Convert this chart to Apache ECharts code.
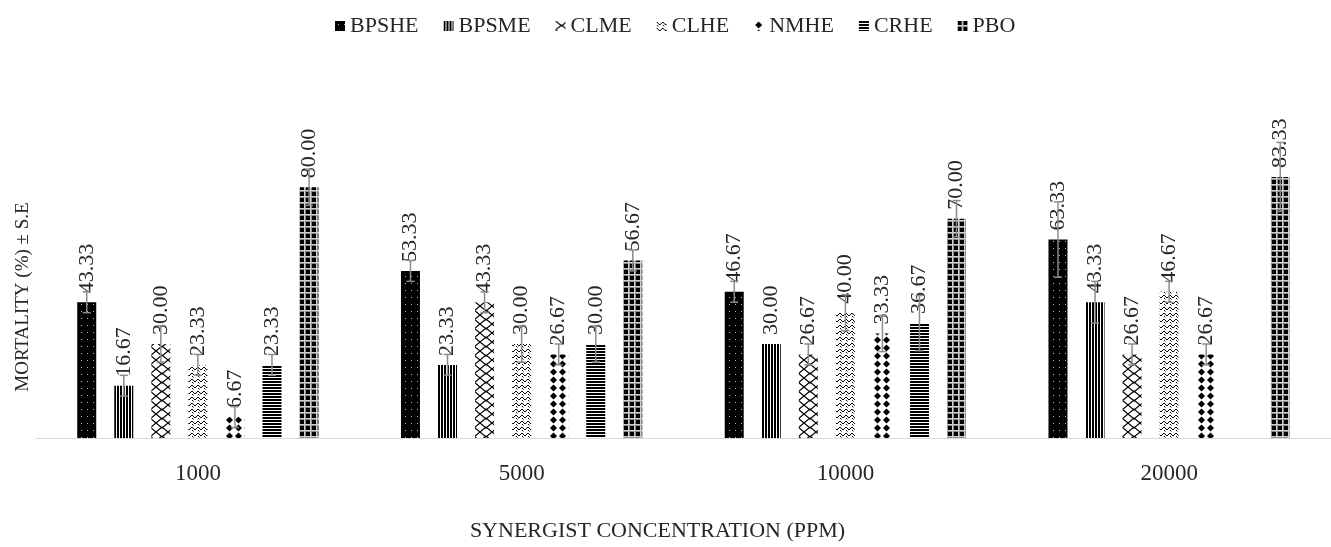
<!DOCTYPE html>
<html>
<head>
<meta charset="utf-8">
<script src="https://cdn.jsdelivr.net/npm/echarts@6/dist/echarts.min.js"></script>
<style>
html,body{margin:0;padding:0;background:#fff;}
#chart{width:1331px;height:547px;}
</style>
</head>
<body>
<div id="chart"></div>
<script>
// ---- data ----
const categories = ['1000', '5000', '10000', '20000'];
const seriesNames = ['BPSHE', 'BPSME', 'CLME', 'CLHE', 'NMHE', 'CRHE', 'PBO'];
const BPSHE = [43.33, 53.33, 46.67, 63.33];
const BPSME = [16.67, 23.33, 30.00, 43.33];
const CLME  = [30.00, 43.33, 26.67, 26.67];
const CLHE  = [23.33, 30.00, 40.00, 46.67];
const NMHE  = [6.67, 26.67, 33.33, 26.67];
const CRHE  = [23.33, 30.00, 36.67, null];
const PBO   = [80.00, 56.67, 70.00, 83.33];
const BPSHE_SE = [3.33, 3.33, 3.33, 12.02];
const BPSME_SE = [3.33, 3.33, 0, 6.67];
const CLME_SE  = [5.77, 3.33, 3.33, 3.33];
const CLHE_SE  = [3.33, 5.77, 5.77, 3.33];
const NMHE_SE  = [3.33, 3.33, 5.77, 3.33];
const CRHE_SE  = [3.33, 5.77, 8.82, 0];
const PBO_SE   = [5.77, 3.33, 5.77, 11.00];

const values = [BPSHE, BPSME, CLME, CLHE, NMHE, CRHE, PBO];
const errors = [BPSHE_SE, BPSME_SE, CLME_SE, CLHE_SE, NMHE_SE, CRHE_SE, PBO_SE];

// ---- pattern fills ----
function mk(w, h, draw) {
  const c = document.createElement('canvas');
  c.width = w; c.height = h;
  const g = c.getContext('2d');
  draw(g, w, h);
  return { image: c, repeat: 'repeat' };
}
const patterns = [
  // BPSHE: black with white dots
  mk(6, 7, (g, w, h) => { g.fillStyle = '#000'; g.fillRect(0, 0, w, h); g.fillStyle = '#bbb'; g.fillRect(3, 3, 1, 1); }),
  // BPSME: dense vertical lines
  mk(3, 4, (g, w, h) => { g.fillStyle = '#fff'; g.fillRect(0, 0, w, h); g.fillStyle = '#000'; g.fillRect(0, 0, 2, h); }),
  // CLME: large zig zag
  mk(12, 9, (g, w, h) => {
    g.fillStyle = '#fff'; g.fillRect(0, 0, w, h);
    g.strokeStyle = '#000'; g.lineWidth = 1.2;
    g.beginPath();
    g.moveTo(0, 0); g.lineTo(6, 5); g.lineTo(12, 0);
    g.moveTo(0, 9); g.lineTo(6, 4); g.lineTo(12, 9);
    g.stroke();
  }),
  // CLHE: small wave
  mk(6, 6, (g, w, h) => {
    g.fillStyle = '#fff'; g.fillRect(0, 0, w, h);
    g.strokeStyle = '#000'; g.lineWidth = 1;
    g.beginPath(); g.moveTo(0, 1); g.lineTo(3, 4); g.lineTo(6, 1); g.stroke();
    g.beginPath(); g.moveTo(0, 4); g.lineTo(1.5, 5.5); g.stroke();
  }),
  // NMHE: diamonds
  mk(9, 8, (g, w, h) => {
    g.fillStyle = '#fff'; g.fillRect(0, 0, w, h);
    g.fillStyle = '#000';
    g.beginPath(); g.moveTo(4.5, 0.5); g.lineTo(8, 4); g.lineTo(4.5, 7.5); g.lineTo(1, 4); g.closePath(); g.fill();
  }),
  // CRHE: horizontal lines
  mk(4, 3, (g, w, h) => { g.fillStyle = '#fff'; g.fillRect(0, 0, w, h); g.fillStyle = '#000'; g.fillRect(0, 0, w, 2); }),
  // PBO: plaid / checker
  mk(6, 6, (g, w, h) => {
    g.fillStyle = '#8a8a8a'; g.fillRect(0, 0, w, h);
    g.fillStyle = '#cfcfcf'; g.fillRect(0, 4, w, 1); g.fillRect(4, 0, 1, h);
    g.fillStyle = '#000'; g.fillRect(0, 0, 4, 4);
  })
];

const FONT = "'Liberation Serif', 'Times New Roman', serif";
const BAR_W = 19;
const GAP = 0.95;

const barSeries = seriesNames.map((name, i) => ({
  name: name,
  type: 'bar',
  data: values[i],
  barWidth: BAR_W,
  barGap: (GAP * 100) + '%',
  itemStyle: { color: patterns[i] },
  label: {
    show: true,
    position: 'top',
    rotate: 90,
    align: 'left',
    verticalAlign: 'middle',
    distance: 9,
    fontFamily: FONT,
    fontSize: 22,
    color: '#262626',
    formatter: p => (p.value == null ? '' : Number(p.value).toFixed(2))
  },
  z: 2
}));

const errData = [];
values.forEach((arr, si) => arr.forEach((v, ci) => {
  if (v != null) errData.push([ci, si, v, errors[si][ci]]);
}));

const errSeries = {
  type: 'custom',
  data: errData,
  encode: { x: 0, y: 2 },
  z: 5,
  silent: true,
  renderItem: function (params, api) {
    const ci = api.value(0), si = api.value(1), v = api.value(2), se = api.value(3);
    if (!se) return null;
    const n = seriesNames.length;
    const step = BAR_W * (1 + GAP);
    const c = api.coord([ci, v]);
    const x = c[0] + (si - (n - 1) / 2) * step;
    const yHi = api.coord([ci, v + se])[1];
    const yLo = api.coord([ci, v - se])[1];
    const cap = 4;
    const st = { stroke: '#8c8c8c', lineWidth: 1.5 };
    return {
      type: 'group',
      children: [
        { type: 'line', shape: { x1: x, y1: yHi, x2: x, y2: yLo }, style: st },
        { type: 'line', shape: { x1: x - cap, y1: yHi, x2: x + cap, y2: yHi }, style: st },
        { type: 'line', shape: { x1: x - cap, y1: yLo, x2: x + cap, y2: yLo }, style: st }
      ]
    };
  }
};

const chart = echarts.init(document.getElementById('chart'), null, { renderer: 'canvas' });
chart.setOption({
  animation: false,
  backgroundColor: '#fff',
  legend: {
    data: seriesNames,
    top: 10,
    left: 330,
    itemWidth: 10,
    itemHeight: 10,
    itemGap: 25,
    icon: 'rect',
    textStyle: { fontFamily: FONT, fontSize: 22, color: '#262626' }
  },
  grid: { left: 36, width: 1306, top: 156, bottom: 109, containLabel: false },
  xAxis: {
    type: 'category',
    data: categories,
    axisLine: { lineStyle: { color: '#d9d9d9', width: 1 } },
    axisTick: { show: false },
    axisLabel: { fontFamily: FONT, fontSize: 23, color: '#262626', margin: 24 },
    name: 'SYNERGIST CONCENTRATION (PPM)',
    nameLocation: 'middle',
    nameGap: 82,
    nameTextStyle: { fontFamily: FONT, fontSize: 22, color: '#262626', padding: [0, 52, 0, 0] }
  },
  yAxis: {
    type: 'value',
    min: 0,
    max: 90,
    axisLine: { show: false },
    axisTick: { show: false },
    axisLabel: { show: false },
    splitLine: { show: false },
    name: 'MORTALITY (%) ± S.E',
    nameLocation: 'middle',
    nameGap: 3,
    nameTextStyle: { fontFamily: FONT, fontSize: 19, color: '#262626' }
  },
  series: barSeries.concat([errSeries])
});
</script>
</body>
</html>
